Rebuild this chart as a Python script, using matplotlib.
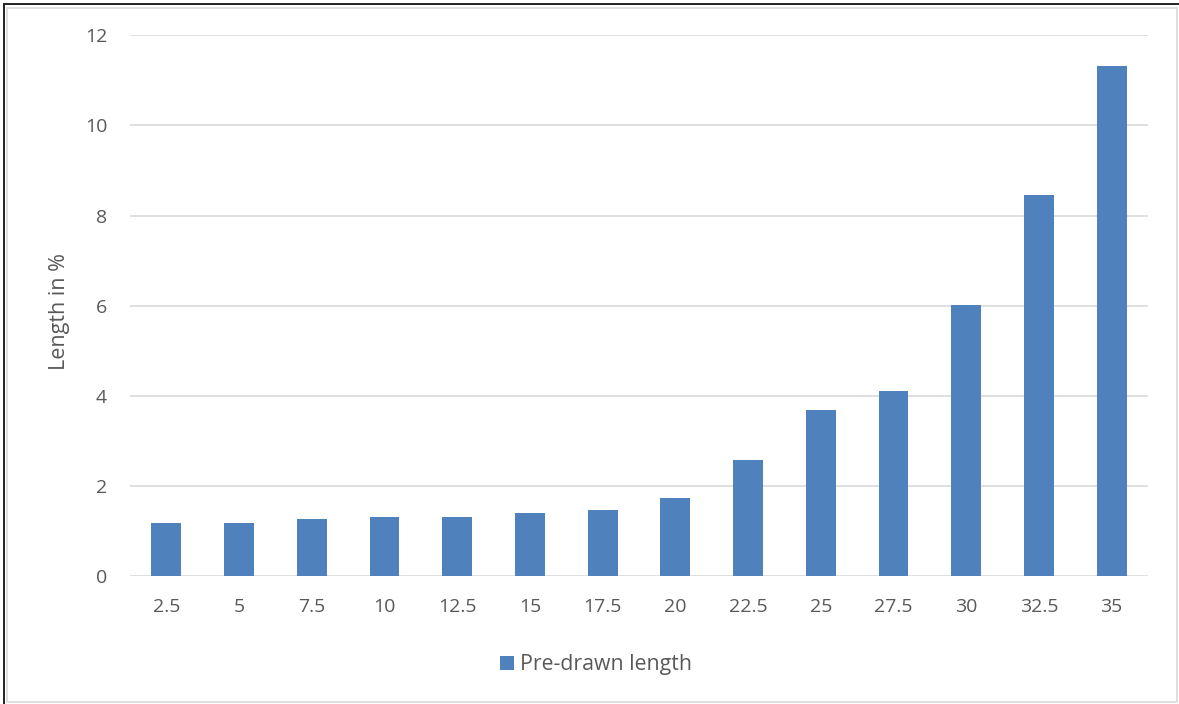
import matplotlib.pyplot as plt
from matplotlib.patches import Rectangle
from matplotlib.lines import Line2D

# Pre-drawn length per setting
categories = ["2.5", "5", "7.5", "10", "12.5", "15", "17.5", "20",
              "22.5", "25", "27.5", "30", "32.5", "35"]
lengths = [1.19, 1.19, 1.28, 1.32, 1.32, 1.41, 1.46, 1.73,
           2.59, 3.69, 4.10, 6.01, 8.46, 11.32]
y_ticks = [0, 2, 4, 6, 8, 10, 12]
series_name = "Pre-drawn length"
y_label = "Length in %"

W, H = 1179, 704
fig = plt.figure(figsize=(W / 100, H / 100), dpi=100)
fig.patch.set_facecolor("white")

font = ["Open Sans", "DejaVu Sans"]
text_color = "#595959"
bar_color = "#4F81BD"
grid_color = "#D9D9D9"

# plot area in pixel coordinates
left, right, top, bottom = 130, 1148, 35.3, 576.3
ax = fig.add_axes([left / W, 1 - bottom / H, (right - left) / W, (bottom - top) / H])

x = list(range(len(categories)))
ax.bar(x, lengths, width=0.41, color=bar_color, zorder=3)

ax.set_xlim(-0.5, len(categories) - 0.5)
ax.set_ylim(0, 12)
ax.set_yticks(y_ticks)
ax.set_yticklabels([str(t) for t in y_ticks], family=font, fontsize=14, color=text_color)
ax.set_xticks(x)
ax.set_xticklabels(categories, family=font, fontsize=14, color=text_color)
ax.tick_params(axis="both", length=0)
ax.tick_params(axis="y", pad=16.5)
ax.tick_params(axis="x", pad=15.5)
ax.grid(axis="y", color=grid_color, linewidth=1.2, zorder=0)
for s in ax.spines.values():
    s.set_visible(False)
ax.set_facecolor("none")

fig.text(60 / W, 1 - 312 / H, y_label, rotation=90, ha="center", va="center",
         family=font, fontsize=15.5, color=text_color)

# legend
fig.patches.append(Rectangle((500 / W, 1 - 670 / H), 14 / W, 14 / H,
                             transform=fig.transFigure, facecolor=bar_color,
                             edgecolor="none"))
fig.text(520 / W, 1 - 664.5 / H, series_name, ha="left", va="center",
         family=font, fontsize=15.3, color=text_color)

# chart frame
fig.patches.append(Rectangle((7.5 / W, 1 - 701.5 / H), 1169 / W, 694 / H,
                             transform=fig.transFigure, facecolor="none",
                             edgecolor="#D9D9D9", linewidth=1.2))
fig.lines.append(Line2D([4 / W, 4 / W], [0, 1 - 3.5 / H], transform=fig.transFigure,
                        color="#222222", linewidth=1.4))
fig.lines.append(Line2D([3.5 / W, 1], [1 - 4 / H, 1 - 4 / H], transform=fig.transFigure,
                        color="#222222", linewidth=1.4))

fig.savefig("out.png", dpi=100)
